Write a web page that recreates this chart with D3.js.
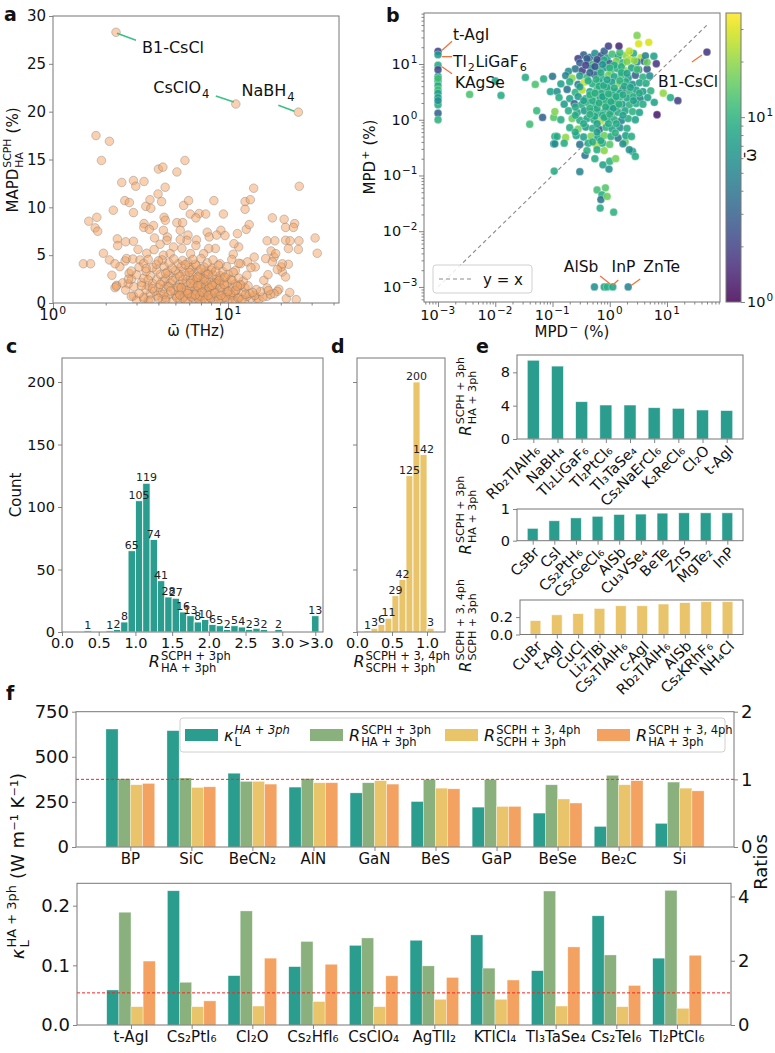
<!DOCTYPE html>
<html><head><meta charset="utf-8">
<script src="https://cdn.jsdelivr.net/npm/d3@7"></script>
<style>
body{margin:0;background:#fff}
svg{display:block}
text{font-family:"DejaVu Sans",sans-serif;fill:#111;white-space:pre}
</style>
</head><body>
<svg id="fig" width="775" height="1053"></svg>
<script>
// ================= DATA =================
// panel a: [omega_bar (THz), MAPD (%)]
const aPoints = [
[2.29,28.3],[11.07,20.8],[25.2,19.95],
[1.76,17.5],[2.1,16.9],[1.89,14.9],[4.0,14.0],[4.24,14.2],[5.1,13.7],[5.67,14.9],
[2.47,12.6],[2.88,12.8],[2.97,12.2],[3.31,12.7],[4.37,12.1],[14.0,12.0],[25.5,12.2],
[2.57,10.7],[2.73,10.5],[2.21,9.7],[2.88,9.45],[3.39,10.1],[3.58,10.8],[3.62,9.9],[3.98,11.4],[4.17,10.6],[5.57,10.2],[5.95,10.7],[8.3,10.7],[9.4,9.3],[12.5,10.6],[13.4,10.8],[12.5,9.8],[17.9,8.9],[20.9,8.75],[24.0,8.3],
[1.6,8.55],[1.78,8.96],[1.74,7.85],[1.8,7.5],[3.31,8.3],[3.75,8.1],[4.31,8.96],[4.38,8.65],[4.27,7.6],[5.1,8.4],[5.5,8.4],[6.08,9.3],[6.84,9.35],[7.45,9.3],[6.55,8.9],[9.1,7.6],[9.6,7.05],[11.3,7.25],[12.7,7.7],[13.2,8.2],[21.3,7.9],[5.33,7.6],[7.6,7.4],
[1.94,5.2],[1.49,4.1],[1.64,4.1],[2.1,4.5],[2.33,6.7],[2.34,6.0],[2.6,6.4],[2.88,6.45],[3.06,5.6],[3.43,5.2],[3.3,7.9],[3.55,7.7],[3.8,6.8],[4.5,6.9],[5.9,7.1],[6.6,6.6],[7.8,6.9],
[16.7,6.5],[18.5,6.5],[17.6,5.44],[16.4,4.64],[18.3,4.8],[18.7,5.16],[21.3,6.56],[22.1,5.69],[22.6,6.5],[23.6,7.9],[25.4,6.5],[25.2,5.6],[31.4,6.8],[32.3,5.2],[22.1,4.05],[20.4,3.24],[21.3,2.72],[20.1,3.77],[20.4,4.1],[19.1,3.5],[17.9,4.3],
[14.1,4.8],[14.3,3.77],[12.9,4.3],[11.8,4.1],[11.5,5.86],[10.7,5.1],[10.8,6.2],[8.6,7.1],[8.46,5.7],[7.75,5.7],[7.25,5.16],[6.55,6.0],[6.1,5.16],[5.45,5.7],[5.82,6.55],[5.33,6.63],[4.88,5.86],[4.47,6.55],[4.09,6.14],[3.78,5.58],[4.27,5.0],[4.67,5.16],
[2.17,2.9],[2.31,1.85],[2.26,1.6],[2.72,3.1],[2.69,2.0],[2.81,2.5],[2.88,0.73],[16.0,2.37],[16.9,2.96],[16.7,1.57],[19.5,1.43],[19.1,1.22],[18.3,0.98],[21.5,0.45],[16.7,0.7],[14.6,0.45],[24.5,0.35],[22.5,1.1],[2.41,3.8],[2.58,4.4],[2.63,4.65],[2.86,4.6],[3.14,4.5],[2.26,4.1],
[3.0,0.3],[3.5,0.25],[4.2,0.4],[4.8,0.2],[5.3,0.35],[5.9,0.28],[6.4,0.45],[7.0,0.22],[7.7,0.38],[8.3,0.3],[9.1,0.26],[10.2,0.42],[11.0,0.3],[12.4,0.24],[13.5,0.5],[15.0,0.36],[3.3,0.45],
[2.8,0.7],[3.3,0.62],[3.9,0.75],[4.4,0.58],[5.0,0.8],[5.6,0.65],[6.1,0.72],[6.7,0.55],[7.3,0.82],[7.9,0.6],[8.6,0.7],[9.5,0.62],[10.5,0.75],[11.6,0.58],[12.8,0.68],[14.2,0.8],[15.8,0.62],[17.5,0.9],
[3.1,1.0],[3.6,0.95],[4.1,1.1],[4.6,0.9],[5.2,1.05],[5.7,1.15],[6.3,0.92],[6.9,1.1],[7.5,1.0],[8.1,1.2],[8.9,0.95],[9.8,1.1],[10.8,1.0],[12.0,1.15],[13.3,0.98],[15.3,1.2],
[2.6,1.35],[3.4,1.4],[3.8,1.25],[4.3,1.5],[4.9,1.3],[5.4,1.45],[6.0,1.35],[6.5,1.55],[7.1,1.3],[7.7,1.45],[8.4,1.35],[9.2,1.5],[10.1,1.3],[11.2,1.45],[12.5,1.6],[14.5,1.4],[17.0,1.3],
[2.3,1.75],[2.9,1.7],[3.5,1.8],[4.0,1.65],[4.5,1.85],[5.1,1.7],[5.6,1.9],[6.2,1.75],[6.8,1.65],[7.4,1.85],[8.0,1.7],[8.8,1.9],[9.6,1.75],[10.6,1.65],[11.7,1.85],[13.0,1.8],
[2.5,2.1],[3.2,2.15],[3.7,2.05],[4.2,2.25],[4.7,2.1],[5.3,2.0],[5.8,2.2],[6.4,2.1],[7.0,2.3],[7.6,2.05],[8.3,2.15],[9.0,2.25],[9.9,2.1],[11.0,2.0],[12.2,2.3],
[2.7,2.5],[3.3,2.6],[3.9,2.45],[4.4,2.55],[5.0,2.65],[5.5,2.4],[6.1,2.6],[6.6,2.5],[7.2,2.7],[7.9,2.45],[8.6,2.55],[9.4,2.65],[10.4,2.5],[11.5,2.6],
[3.0,2.95],[3.6,2.85],[4.1,3.0],[4.6,2.9],[5.2,3.05],[5.7,2.85],[6.3,3.0],[6.9,2.9],[7.5,3.1],[8.2,2.95],[9.0,2.85],[10.0,3.0],[12.8,2.9],
[2.8,3.35],[3.4,3.3],[3.9,3.45],[4.5,3.25],[5.0,3.4],[5.6,3.3],[6.2,3.5],[6.8,3.35],[7.4,3.25],[8.0,3.45],[9.3,3.3],[11.0,3.4],
[3.1,3.75],[3.7,3.7],[4.3,3.85],[4.8,3.65],[5.4,3.8],[6.0,3.7],[6.6,3.9],[7.3,3.75],[8.1,3.65],[9.8,3.8],[13.5,3.7],
[3.3,4.15],[3.9,4.05],[4.6,4.2],[5.2,4.1],[5.9,4.25],[6.5,4.05],[7.6,4.2],[9.0,4.1],[11.5,4.15],
[3.5,4.55],[4.2,4.5],[4.9,4.6],[5.5,4.45],[6.3,4.55],[7.0,4.65],[8.2,4.5],[10.5,4.55],
[5.5,0.5],[6.0,0.9],[6.6,1.2],[7.2,0.5],[7.8,1.6],[8.5,2.0],[5.2,1.6],[6.3,2.4],[7.0,1.9],[8.0,0.9],[9.3,0.5],[6.8,0.35],[5.8,1.3],[7.5,2.3],[4.6,1.7],[9.0,1.6],[10.3,0.9],[11.8,1.9],[4.3,0.9],[3.7,1.5],
[4.4,0.3],[5.1,0.55],[5.7,0.3],[6.2,0.6],[6.9,0.75],[7.4,0.3],[8.0,0.5],[8.8,0.35],[9.7,0.55],[10.6,0.25],[11.4,0.5],[12.0,0.35],[4.0,0.5],[3.6,0.3],
[4.7,1.25],[5.3,0.85],[5.9,1.0],[6.5,0.85],[7.1,1.15],[7.7,0.8],[8.4,1.05],[9.1,0.8],[10.0,1.2],[11.0,1.3],[12.6,0.9],[13.8,1.1],
[4.1,1.95],[4.8,2.35],[5.4,1.6],[6.1,2.05],[6.7,1.8],[7.3,2.5],[8.1,1.85],[8.9,2.35],[9.5,1.95],[10.5,2.4],[11.3,1.75],
[4.4,3.1],[5.3,2.8],[6.0,3.2],[6.7,2.7],[7.7,3.0],[8.5,3.3],[9.6,2.7],[10.7,3.2],[3.5,2.4],[3.2,1.8],[3.4,3.6],[4.0,4.4],[5.7,4.0],[7.0,3.55],[8.8,3.95]
];
const aLabels = [{name:"B1-CsCl", at:[2.29,28.3]},{name:"CsClO", sub:"4", at:[11.07,20.8]},{name:"NaBH", sub:"4", at:[25.2,19.95]}];
const aXTicks = [1,10], aXMinor=[2,3,4,5,6,7,8,9,20,30,40], aYTicks=[0,5,10,15,20,25,30];

// panel b: [MPD- (%), MPD+ (%), omega_bar]
const bPoints = [
[0.001,9.5,9],[0.001,6.0,8],[0.001,4.9,10],[0.001,4.1,9],[0.001,3.45,12],[0.001,3.0,8],[0.001,2.5,7],[0.001,1.85,9],[0.001,1.31,3],[0.001,1.0,10],[0.001,5.5,12],[0.001,2.2,6],
[0.001,16.9,2.0],[0.001,14.7,7],[0.001,7.9,2.2],
[0.54,0.001,6],[0.8,0.001,8],[0.9,0.001,10],[1.13,0.001,8],[2.1,0.001,5],
[0.00357,2.84,13],[0.0126,2.73,9],[0.01,4.95,8],[0.0336,5.75,9],[0.05,4.3,13],[0.04,0.83,12],[0.053,1.45,11],[0.067,1.1,3],[0.07,5.4,9],[0.1,6.0,4],[0.092,3.2,8],[0.105,1.1,14],[0.11,0.5,9],[0.105,0.37,5],[0.107,0.12,9],[0.3,0.117,5],[0.37,0.23,4],[0.55,0.2,9],[0.76,0.155,8],[1.0,0.18,10],[0.97,0.13,6],[1.27,0.2,17],[1.86,0.4,16],[2.5,0.27,8],[2.8,0.22,9],[0.6,0.055,12],[0.84,0.06,14],[0.73,0.045,9],[0.7,0.037,4],[0.68,0.026,9],[1.17,0.022,10],[0.9,0.042,16],
[0.35,14.5,3],[0.45,13.2,4],[0.55,15.5,6],[0.7,14,2.5],[0.9,12.8,8],[1.1,15,12],[1.4,13.5,7],[1.9,14.2,20],[2.6,15.5,9],[3.5,13,25],[0.28,12.5,2],[0.8,17,3],
[0.3,10.5,3],[0.42,11.5,2.5],[0.6,10.8,7],[0.8,11.8,9],[1.0,10.2,3],[1.3,11.3,18],[1.7,10.6,10],[2.2,12,26],[3.0,10.9,5],[4.0,11.2,3],[0.5,9.8,12],
[0.25,8.2,4],[0.33,7.6,2],[0.48,8.5,8],[0.65,7.8,10],[0.85,8.6,6],[1.05,7.5,14],[1.35,8.3,9],[1.8,7.7,22],[2.4,8.5,8],[3.2,7.9,4],[4.5,8.1,2.5],[0.19,7.4,6],
[0.17,6.2,5],[0.22,5.6,20],[0.3,6.1,7],[0.4,5.8,11],[0.55,6.4,3],[0.72,5.7,9],[0.95,6.3,16],[1.2,5.9,8],[1.6,6.2,12],[2.1,5.6,7],[2.8,6.3,3],[3.8,5.8,10],[5.0,6.1,6],
[0.14,4.4,8],[0.2,4.8,9],[0.28,4.3,4],[0.36,4.7,28],[0.5,4.4,9],[0.65,4.9,8],[0.85,4.3,11],[1.1,4.7,7],[1.45,4.4,19],[1.9,4.8,9],[2.5,4.3,6],[3.3,4.6,8],[4.3,4.5,9],
[0.12,3.2,6],[0.18,3.5,4],[0.25,3.1,10],[0.33,3.4,25],[0.45,3.2,8],[0.6,3.5,12],[0.78,3.1,7],[1.0,3.4,10],[1.3,3.2,9],[1.7,3.5,3],[2.2,3.1,11],[2.9,3.4,8],[3.8,3.2,7],[5.2,3.3,10],
[0.13,2.5,9],[0.2,2.4,8],[0.28,2.6,7],[0.38,2.4,9],[0.52,2.6,15],[0.68,2.45,8],[0.9,2.6,9],[1.15,2.4,6],[1.5,2.55,10],[2.0,2.45,8],[2.6,2.6,9],[3.4,2.4,5],[4.6,2.5,8],
[0.16,1.9,7],[0.24,1.95,3],[0.32,1.85,9],[0.42,2.0,10],[0.56,1.85,8],[0.74,1.95,17],[0.98,1.85,9],[1.25,2.0,8],[1.65,1.9,7],[2.2,1.85,10],[2.9,1.95,9],[3.8,1.9,9],
[0.11,1.4,18],[0.19,1.45,9],[0.27,1.35,8],[0.36,1.45,7],[0.48,1.4,6],[0.62,1.35,9],[0.82,1.45,10],[1.05,1.4,4],[1.4,1.35,9],[1.85,1.45,8],[2.5,1.4,10],[3.3,1.35,8],
[0.14,1.0,9],[0.22,1.05,16],[0.3,0.98,9],[0.4,1.05,8],[0.53,1.0,9],[0.7,0.95,25],[0.92,1.05,8],[1.2,1.0,9],[1.6,0.97,5],[2.1,1.05,9],[2.8,1.0,8],
[0.2,0.72,9],[0.28,0.68,17],[0.38,0.74,7],[0.5,0.7,9],[0.66,0.67,3],[0.86,0.73,10],[1.1,0.69,8],[1.5,0.72,6],[2.0,0.7,9],
[0.12,0.5,9],[0.17,0.48,20],[0.26,0.52,8],[0.35,0.49,8],[0.47,0.51,18],[0.62,0.48,8],[0.8,0.52,16],[1.05,0.5,9],[1.4,0.47,4],[1.9,0.52,8],[2.4,0.5,9],
[0.11,0.37,6],[0.16,0.38,9],[0.3,0.36,4],[0.42,0.38,9],[0.58,0.35,26],[0.75,0.38,9],[1.0,0.36,14],[1.7,0.37,6],
[0.4,0.28,10],[0.6,0.29,9],[0.8,0.28,19],[2.2,0.29,6],
[0.5,2.2,9],[0.7,3.0,10],[0.9,3.8,9],[1.1,2.8,8],[0.6,1.6,9],[0.85,2.2,10],[1.3,1.7,9],[0.45,2.8,10],[0.75,1.2,9],[1.0,1.6,8],[1.2,2.2,10],[0.55,1.15,9],[0.95,0.85,9],[1.5,3.0,9],[0.65,4.0,9],[0.4,12.5,3],[0.6,12,2.2],[1.2,9.5,9],[1.6,9,10],[2.0,11,18],
[0.25,1.7,9],[0.35,2.2,8],[0.45,1.6,10],[0.55,3.0,9],[0.65,2.0,9],[0.75,2.6,8],[0.85,1.7,9],[0.95,2.9,10],[1.05,2.1,9],[1.15,1.6,8],[1.3,2.6,9],[1.45,1.9,10],[1.7,2.8,9],[0.3,3.9,8],[0.42,5.0,9],[0.58,5.3,10],[0.78,4.1,9],[0.9,5.2,8],[1.2,3.7,9],[1.5,5.0,10],[1.8,4.0,9],[2.3,3.8,8],[0.7,7.0,9],[1.0,8.5,10],[1.6,7.0,9],[2.0,6.8,8],[0.45,7.0,3],[0.55,9.0,2.5],[0.38,9.5,2],[0.75,9.8,6],[0.25,1.2,9],[0.35,0.85,9],[0.45,1.25,10],[0.6,0.85,8],[0.8,1.1,9],[1.0,1.25,10],[1.3,0.85,9],[1.7,1.2,8],[0.25,0.6,9],[0.6,0.6,8],[1.25,0.58,10],[0.7,0.42,9],[0.5,0.4,9],[3.0,8.0,12],[2.7,11.5,20],[1.5,16,12],[2.2,17,25],[4.2,14,5],[3.3,3.0,9],[2.6,2.2,8],
[4.8,24.5,30],[3.0,32.5,18],[0.95,21,2],[1.45,21,1.5],[5.9,13.8,8],[6.5,10.1,1.8],[8.6,3.0,20],[11.5,2.5,9],[15.5,2.2,2],[6.7,1.23,1.3],[49.9,16.4,1.8],[6.0,2.05,8],[4.5,10.7,16],[3.2,23,30]
];
const bMajor = [-3,-2,-1,0,1];
const cbTicks = [0,1];

// panel c histogram
const cBinStart = [0.3,0.6,0.7,0.8,0.9,1.0,1.1,1.2,1.3,1.4,1.5,1.6,1.7,1.8,1.9,2.0,2.1,2.2,2.3,2.4,2.5,2.6,2.7,2.9,3.4];
const cCounts   = [1,1,2,8,65,105,119,74,41,28,27,16,13,8,10,6,5,2,5,4,2,3,2,2,13];
const cXTicks = [0,0.5,1.0,1.5,2.0,2.5,3.0,3.45];
const cXTickLabels = ["0.0","0.5","1.0","1.5","2.0","2.5","3.0",">3.0"];
const cYTicks = [0,50,100,150,200];
// panel d histogram
const dBinStart = [0.1,0.2,0.3,0.4,0.5,0.6,0.7,0.8,0.9,1.0];
const dCounts   = [1,3,6,11,29,42,125,200,142,3];
const dXTicks = [0,0.5,1.0];

// panel e
const e1Names = ["Rb₂TlAlH₆","NaBH₄","Tl₂LiGaF₆","Tl₂PtCl₆","Tl₃TaSe₄","Cs₂NaErCl₆","K₂ReCl₆","Cl₂O","t-AgI"];
const e1Vals  = [9.45,8.75,4.48,4.08,4.08,3.76,3.68,3.48,3.42];
const e2Names = ["CsBr","CsI","Cs₂PtH₆","Cs₂GeCl₆","AlSb","Cu₃VSe₄","BeTe","ZnS","MgTe₂","InP"];
const e2Vals  = [0.39,0.63,0.72,0.77,0.83,0.84,0.87,0.88,0.88,0.88];
const e3Names = ["CuBr","t-AgI","CuCl","Li₂TlBi","Cs₂TlAlH₆","c-AgI","Rb₂TlAlH₆","AlSb","Cs₂KRhF₆","NH₄Cl"];
const e3Vals  = [0.16,0.226,0.24,0.30,0.33,0.33,0.35,0.366,0.377,0.377];

// panel f
const fTopNames = ["BP","SiC","BeCN₂","AlN","GaN","BeS","GaP","BeSe","Be₂C","Si"];
const fTopKappa = [654,645,409,332,300,252,221,188,114,131];
const fTopR1 = [1.01,1.02,0.97,1.01,0.95,1.0,1.0,0.92,1.06,0.96];
const fTopR2 = [0.92,0.88,0.97,0.95,0.98,0.87,0.60,0.71,0.92,0.87];
const fTopR3 = [0.94,0.89,0.93,0.95,0.93,0.86,0.60,0.65,0.98,0.83];
const fBotNames = ["t-AgI","Cs₂PtI₆","Cl₂O","Cs₂HfI₆","CsClO₄","AgTlI₂","KTlCl₄","Tl₃TaSe₄","Cs₂TeI₆","Tl₂PtCl₆"];
const fBotKappa = [0.0587,0.225,0.0827,0.0978,0.1335,0.142,0.151,0.091,0.183,0.112];
const fBotR1 = [3.51,1.33,3.55,2.60,2.71,1.84,1.77,4.17,2.18,4.19];
const fBotR2 = [0.57,0.57,0.59,0.73,0.57,0.80,0.80,0.59,0.57,0.52];
const fBotR3 = [1.99,0.75,2.08,1.89,1.53,1.48,1.40,2.43,1.23,2.17];
const fTopLeftTicks=[0,250,500,750], fTopRightTicks=[0,1,2];
const fBotLeftTicks=[0,0.1,0.2], fBotRightTicks=[0,2,4];

// ================= DRAW =================
const C_TEAL="#2a9d8f", C_GREEN="#8ab17d", C_YEL="#e9c46a", C_ORA="#f4a261";
const SPINE="#777";
const svg=d3.select("#fig");
const defs=svg.append("defs");
const RI={t:"R",italic:true};

function rich(parent, parts, fs, opts={}){
  const outer=parent.append("g").attr("transform",`translate(${opts.x||0},${opts.y||0}) rotate(${opts.rotate||0})`);
  const g=outer.append("g");
  let cx=0;
  parts.forEach(p=>{
    if(typeof p==="string"||p.t!==undefined){
      const s=typeof p==="string"?p:p.t;
      const t=g.append("text").attr("x",cx).attr("y",0).attr("font-size",fs).text(s);
      if(p.italic) t.attr("font-style","italic");
      if(opts.weight) t.attr("font-weight",opts.weight);
      cx+=t.node().getComputedTextLength();
    } else {
      const sf=fs*(p.scale||0.72); let w=0;
      if(p.sup!==undefined){const t=g.append("text").attr("x",cx+1).attr("y",-fs*(p.sub!==undefined?0.45:0.42)).attr("font-size",sf).text(p.sup); if(p.supItalic)t.attr("font-style","italic"); w=Math.max(w,t.node().getComputedTextLength());}
      if(p.sub!==undefined){const t=g.append("text").attr("x",cx+1).attr("y",fs*0.3).attr("font-size",sf).text(p.sub); w=Math.max(w,t.node().getComputedTextLength());}
      cx+=w+1.5;
    }
  });
  const a=opts.anchor||"middle";
  g.attr("transform",`translate(${a==="middle"?-cx/2:a==="end"?-cx:0},0)`);
  return outer;
}
function style(g,fs){
  g.select(".domain").remove();
  g.selectAll(".tick line").attr("stroke",SPINE).attr("stroke-width",0.9);
  g.selectAll(".tick text").attr("font-size",fs);
  return g;
}
function frame(x0,y0,x1,y1){
  svg.append("rect").attr("x",x0).attr("y",y0).attr("width",x1-x0).attr("height",y1-y0)
    .attr("fill","none").attr("stroke",SPINE).attr("stroke-width",1);
}
function clip(id,x0,y0,x1,y1){
  defs.append("clipPath").attr("id",id).append("rect").attr("x",x0).attr("y",y0).attr("width",x1-x0).attr("height",y1-y0);
  return `url(#${id})`;
}
function panelLabel(s,x,y){svg.append("text").attr("x",x).attr("y",y).attr("font-size",19).attr("font-weight","bold").text(s);}

// ---------- panel a ----------
{
  const X=d3.scaleLog().domain([1,43]).range([53,339]);
  const Y=d3.scaleLinear().domain([0,30]).range([303,16]);
  const g=svg.append("g").attr("clip-path",clip("ca",53,16,339,303));
  g.selectAll("circle").data(aPoints).join("circle")
    .attr("cx",d=>X(d[0])).attr("cy",d=>Y(d[1])).attr("r",4.3)
    .attr("fill",C_ORA).attr("fill-opacity",0.5)
    .attr("stroke","#6f6f6f").attr("stroke-opacity",0.45).attr("stroke-width",0.8);
  frame(53,16,339,303);
  style(svg.append("g").attr("transform","translate(53,0)").call(d3.axisLeft(Y).tickValues(aYTicks).tickSize(4).tickPadding(3)),15);
  style(svg.append("g").attr("transform","translate(0,303)").call(d3.axisBottom(X).tickValues(aXTicks).tickSize(5).tickFormat("")),15);
  style(svg.append("g").attr("transform","translate(0,303)").call(d3.axisBottom(X).tickValues(aXMinor).tickSize(2.5).tickFormat("")),15);
  aXTicks.forEach(v=>rich(svg,["10",{sup:String(Math.round(Math.log10(v)))}],15,{x:X(v),y:320}));
  rich(svg,["MAPD",{sup:"SCPH",sub:"HA"}," (%)"],15,{x:18,y:160,rotate:-90});
  rich(svg,["ω̄ (THz)"],15,{x:196,y:336});
  const GL="#3dbf86";
  const offs=[{l:[1,1,20,8],t:[26,21],anchor:"start"},{l:[-20,-8,-2,-2],t:[-26,-11],anchor:"end"},{l:[-20,-7,-4,-1],t:[-30,-16],anchor:"middle"}];
  aLabels.forEach((lb,i)=>{
    const px=X(lb.at[0]),py=Y(lb.at[1]),o=offs[i];
    svg.append("line").attr("x1",px+o.l[0]).attr("y1",py+o.l[1]).attr("x2",px+o.l[2]).attr("y2",py+o.l[3]).attr("stroke",GL).attr("stroke-width",1.6);
    const parts=[lb.name]; if(lb.sub) parts.push({sub:lb.sub,scale:0.72});
    rich(svg,parts,16,{x:px+o.t[0],y:py+o.t[1],anchor:o.anchor});
  });
  panelLabel("a",4,21);
}

// ---------- panel b ----------
{
  const X=d3.scaleLog().domain([Math.pow(10,-3.245),Math.pow(10,1.926)]).range([424,720]);
  const Y=d3.scaleLog().domain([Math.pow(10,-3.27),Math.pow(10,1.915)]).range([302,13]);
  const col=d3.scaleSequentialLog(d3.interpolateViridis).domain([1,36.6]);
  const g=svg.append("g").attr("clip-path",clip("cb",424,13,720,302));
  g.append("line").attr("x1",X(0.001)).attr("y1",Y(0.001)).attr("x2",X(50)).attr("y2",Y(50))
    .attr("stroke","#8a8a8a").attr("stroke-dasharray","4,3").attr("stroke-width",1.1);
  g.selectAll("circle").data(bPoints).join("circle")
    .attr("cx",d=>X(d[0])).attr("cy",d=>Y(d[1])).attr("r",3.9)
    .attr("fill",d=>col(d[2])).attr("fill-opacity",0.88)
    .attr("stroke","#fff").attr("stroke-opacity",0.6).attr("stroke-width",0.5);
  frame(424,13,720,302);
  const minor=[];
  for(let e=-4;e<=1;e++) for(let k=2;k<=9;k++) minor.push(k*Math.pow(10,e));
  const mx=minor.filter(v=>v>=X.domain()[0]&&v<=X.domain()[1]);
  const my=minor.filter(v=>v>=Y.domain()[0]&&v<=Y.domain()[1]);
  const maj=bMajor.map(e=>Math.pow(10,e));
  style(svg.append("g").attr("transform","translate(0,302)").call(d3.axisBottom(X).tickValues(maj).tickSize(5).tickFormat("")),14);
  style(svg.append("g").attr("transform","translate(0,302)").call(d3.axisBottom(X).tickValues(mx).tickSize(2.5).tickFormat("")),14);
  style(svg.append("g").attr("transform","translate(424,0)").call(d3.axisLeft(Y).tickValues(maj).tickSize(5).tickFormat("")),14);
  style(svg.append("g").attr("transform","translate(424,0)").call(d3.axisLeft(Y).tickValues(my).tickSize(2.5).tickFormat("")),14);
  bMajor.forEach(e=>{
    const s=e<0?"−"+(-e):String(e);
    rich(svg,["10",{sup:s}],14.5,{x:X(Math.pow(10,e)),y:320});
    rich(svg,["10",{sup:s}],14.5,{x:418,y:Y(Math.pow(10,e))+5,anchor:"end"});
  });
  rich(svg,["MPD",{sup:"+"}," (%)"],15,{x:375,y:157,rotate:-90});
  rich(svg,["MPD",{sup:"−"}," (%)"],15,{x:572,y:337});
  // legend
  svg.append("rect").attr("x",433).attr("y",265).attr("width",99).attr("height",28).attr("rx",3)
    .attr("fill","#fff").attr("fill-opacity",0.85).attr("stroke","#d0d0d0");
  svg.append("line").attr("x1",439).attr("x2",471).attr("y1",279).attr("y2",279).attr("stroke","#8a8a8a").attr("stroke-dasharray","4,3").attr("stroke-width",1.2);
  svg.append("text").attr("x",483).attr("y",284.5).attr("font-size",15).text("y = x");
  // colorbar
  const grad=defs.append("linearGradient").attr("id","vir").attr("x1",0).attr("y1",1).attr("x2",0).attr("y2",0);
  d3.range(0,1.0001,0.05).forEach(t=>grad.append("stop").attr("offset",t).attr("stop-color",d3.interpolateViridis(t)));
  svg.append("rect").attr("x",726).attr("y",13).attr("width",15).attr("height",289).attr("fill","url(#vir)").attr("opacity",0.85);
  svg.append("rect").attr("x",726).attr("y",13).attr("width",15).attr("height",289).attr("fill","none").attr("stroke",SPINE);
  const CB=d3.scaleLog().domain([1,36.6]).range([302,13]);
  style(svg.append("g").attr("transform","translate(741,0)").call(d3.axisRight(CB).tickValues(cbTicks.map(e=>Math.pow(10,e))).tickSize(4).tickFormat("")),14);
  style(svg.append("g").attr("transform","translate(741,0)").call(d3.axisRight(CB).tickValues([2,3,4,5,6,7,8,9,20,30]).tickSize(2.5).tickFormat("")),14);
  cbTicks.forEach(e=>rich(svg,["10",{sup:String(e)}],14.5,{x:747,y:CB(Math.pow(10,e))+5,anchor:"start"}));
  rich(svg,["ω̄"],16,{x:756,y:155,rotate:-90});
  // annotations
  const OR="#f0743c";
  const ann=[
    {p:[0.001,16.9],l:[4,-1,14,-10],t:[15,-11],a:"start",parts:["t-AgI"]},
    {p:[0.001,14.7],l:[4,2,14,2],t:[15,12],a:"start",parts:["Tl",{sub:"2"},"LiGaF",{sub:"6"}]},
    {p:[0.001,7.9],l:[4,-3,14,4],t:[17,18],a:"start",parts:["KAgSe"]},
    {p:[49.9,16.4],l:[-15,10,-5,3],t:[-19,35],a:"middle",parts:["B1-CsCl"]},
    {p:[0.9,0.001],l:[-7,-11,3,-3],t:[-26,-15],a:"middle",parts:["AlSb"]},
    {p:[1.13,0.001],l:[5.5,-7,-0.5,-1.5],t:[10.7,-15],a:"middle",parts:["InP"]},
    {p:[2.1,0.001],l:[12,-8,3,-1.5],t:[33.5,-15],a:"middle",parts:["ZnTe"]}
  ];
  ann.forEach(o=>{
    const px=X(o.p[0]),py=Y(o.p[1]);
    svg.append("line").attr("x1",px+o.l[0]).attr("y1",py+o.l[1]).attr("x2",px+o.l[2]).attr("y2",py+o.l[3]).attr("stroke",OR).attr("stroke-width",1.3);
    rich(svg,o.parts,15.5,{x:px+o.t[0],y:py+o.t[1],anchor:o.a});
  });
  panelLabel("b",386,22);
}

// ---------- panel c & d ----------
{
  const Y=d3.scaleLinear().domain([0,219.2]).range([632,358]);
  const X=d3.scaleLinear().domain([0,3.555]).range([62,323]);
  const g=svg.append("g");
  g.selectAll("rect").data(cCounts).join("rect")
    .attr("x",(d,i)=>X(cBinStart[i])).attr("width",(d,i)=>X(cBinStart[i]+0.1)-X(cBinStart[i]))
    .attr("y",d=>Y(d)).attr("height",d=>Y(0)-Y(d)).attr("fill",C_TEAL).attr("stroke","#fff").attr("stroke-width",0.8);
  g.selectAll("text").data(cCounts).join("text")
    .attr("x",(d,i)=>X(cBinStart[i]+0.05)).attr("y",d=>Y(d)-2).attr("text-anchor","middle").attr("font-size",11).style("fill","#222").text(d=>d);
  frame(62,358,323,632);
  style(svg.append("g").attr("transform","translate(62,0)").call(d3.axisLeft(Y).tickValues(cYTicks).tickSize(4).tickPadding(3)),14.5);
  style(svg.append("g").attr("transform","translate(0,632)").call(d3.axisBottom(X).tickValues(cXTicks).tickSize(4).tickPadding(2).tickFormat((d,i)=>cXTickLabels[i])),14.5);
  rich(svg,["Count"],15,{x:21,y:495,rotate:-90});
  rich(svg,[RI,{sup:"SCPH + 3ph",sub:"HA + 3ph"}],16,{x:190,y:667});
  panelLabel("c",6,353);

  const DX=d3.scaleLinear().domain([0,1.257]).range([357,445]);
  const h=svg.append("g");
  h.selectAll("rect").data(dCounts).join("rect")
    .attr("x",(d,i)=>DX(dBinStart[i])).attr("width",(d,i)=>DX(dBinStart[i]+0.1)-DX(dBinStart[i]))
    .attr("y",d=>Y(d)).attr("height",d=>Y(0)-Y(d)).attr("fill",C_YEL).attr("stroke","#fff").attr("stroke-width",0.8);
  h.selectAll("text").data(dCounts).join("text")
    .attr("x",(d,i)=>DX(dBinStart[i]+0.05)).attr("y",d=>Y(d)-2).attr("text-anchor","middle").attr("font-size",11).style("fill","#222").text(d=>d);
  frame(357,358,445,632);
  style(svg.append("g").attr("transform","translate(357,0)").call(d3.axisLeft(Y).tickValues(cYTicks).tickSize(4).tickFormat("")),14.5);
  style(svg.append("g").attr("transform","translate(0,632)").call(d3.axisBottom(DX).tickValues(dXTicks).tickSize(4).tickPadding(2).tickFormat(d3.format(".1f"))),14.5);
  rich(svg,[RI,{sup:"SCPH + 3, 4ph",sub:"SCPH + 3ph"}],16,{x:402,y:667});
  panelLabel("d",331,353);
}

// ---------- panel e ----------
function ePanel(names,vals,x0,x1,y0,y1,ymax,ticks,fmt,color,ylab){
  const n=names.length, m=(n-0.5)*0.05+0.25;
  const X=d3.scaleLinear().domain([-m,n-1+m]).range([x0,x1]);
  const Y=d3.scaleLinear().domain([0,ymax]).range([y1,y0]);
  const bw=X(0.5)-X(0);
  svg.append("g").selectAll("rect").data(vals).join("rect")
    .attr("x",(d,i)=>X(i)-bw/2).attr("width",bw).attr("y",d=>Y(d)).attr("height",d=>Y(0)-Y(d))
    .attr("fill",color).attr("stroke","#fff").attr("stroke-opacity",0.7).attr("stroke-width",0.8);
  frame(x0,y0,x1,y1);
  style(svg.append("g").attr("transform",`translate(${x0},0)`).call(d3.axisLeft(Y).tickValues(ticks).tickSize(4).tickPadding(3).tickFormat(fmt)),14.5);
  style(svg.append("g").attr("transform",`translate(0,${y1})`).call(d3.axisBottom(X).tickValues(d3.range(n)).tickSize(4).tickFormat("")),14);
  names.forEach((nm,i)=>{
    svg.append("text").attr("transform",`translate(${X(i)+4},${y1+9}) rotate(-45)`)
      .attr("text-anchor","end").attr("dy","0.35em").attr("font-size",14.5).text(nm);
  });
  rich(svg,[RI,{sup:ylab[0],sub:ylab[1],scale:0.74}],15,{x:471,y:(y0+y1)/2+ylab[2],rotate:-90});
}
ePanel(e1Names,e1Vals,517,743,355,439,10.08,[0,4,8],d3.format("d"),C_TEAL,["SCPH + 3ph","HA + 3ph",-1]);
ePanel(e2Names,e2Vals,517,743,509,540.7,1.0,[0,1],d3.format("d"),C_TEAL,["SCPH + 3ph","HA + 3ph",-10]);
ePanel(e3Names,e3Vals,520,743,600,634.5,0.396,[0,0.2],d3.format(".1f"),C_YEL,["SCPH + 3, 4ph","SCPH + 3ph",8]);
panelLabel("e",476,353);

// ---------- panel f ----------
function fPanel(names,kappa,r1,r2,r3,x0,x1,y0,y1,kmax,rmax,lt,rt,lfmt,labY){
  const X=d3.scaleLinear().domain([-0.89,9.89]).range([x0,x1]);
  const YL=d3.scaleLinear().domain([0,kmax]).range([y1,y0]);
  const YR=d3.scaleLinear().domain([0,rmax]).range([y1,y0]);
  const bw=X(0.2)-X(0);
  const series=[[kappa,YL,C_TEAL,-0.3],[r1,YR,C_GREEN,-0.1],[r2,YR,C_YEL,0.1],[r3,YR,C_ORA,0.3]];
  series.forEach(([vals,S,c,off])=>{
    svg.append("g").selectAll("rect").data(vals).join("rect")
      .attr("x",(d,i)=>X(i+off)-bw/2).attr("width",bw).attr("y",d=>S(d)).attr("height",d=>S(0)-S(d))
      .attr("fill",c).attr("stroke","#fff").attr("stroke-opacity",0.6).attr("stroke-width",0.6);
  });
  svg.append("line").attr("x1",x0).attr("x2",x1).attr("y1",YR(1)).attr("y2",YR(1))
    .attr("stroke","#ff2020").attr("stroke-dasharray","3,2").attr("stroke-width",1);
  frame(x0,y0,x1,y1);
  style(svg.append("g").attr("transform",`translate(${x0},0)`).call(d3.axisLeft(YL).tickValues(lt).tickSize(4).tickPadding(3).tickFormat(lfmt)),18);
  style(svg.append("g").attr("transform",`translate(${x1},0)`).call(d3.axisRight(YR).tickValues(rt).tickSize(4).tickPadding(3).tickFormat(d3.format("d"))),18);
  style(svg.append("g").attr("transform",`translate(0,${y1})`).call(d3.axisBottom(X).tickValues(d3.range(10)).tickSize(4).tickFormat("")),14);
  names.forEach((nm,i)=>svg.append("text").attr("x",X(i)).attr("y",labY).attr("text-anchor","middle").attr("font-size",15).text(nm));
}
fPanel(fTopNames,fTopKappa,fTopR1,fTopR2,fTopR3,76,734,711.7,847,750,2,fTopLeftTicks,fTopRightTicks,d3.format("d"),864);
fPanel(fBotNames,fBotKappa,fBotR1,fBotR2,fBotR3,77,731,883.3,1025,0.2375,4.41,fBotLeftTicks,fBotRightTicks,d3.format(".1f"),1042);
rich(svg,[{t:"κ",italic:true},{sup:"HA + 3ph",sub:"L"}," (W m⁻¹ K⁻¹)"],18,{x:24,y:866,rotate:-90});
rich(svg,["Ratios"],18,{x:767,y:862,rotate:-90});
// legend f
{
  svg.append("rect").attr("x",180).attr("y",718).attr("width",545).attr("height",34).attr("rx",3)
    .attr("fill","#fff").attr("fill-opacity",0.85).attr("stroke","#d0d0d0");
  const items=[
    {c:C_TEAL,x:185,parts:[{t:"κ",italic:true},{sup:"HA + 3ph",sub:"L",supItalic:true}]},
    {c:C_GREEN,x:310,parts:[RI,{sup:"SCPH + 3ph",sub:"HA + 3ph"}]},
    {c:C_YEL,x:445,parts:[RI,{sup:"SCPH + 3, 4ph",sub:"SCPH + 3ph"}]},
    {c:C_ORA,x:597,parts:[RI,{sup:"SCPH + 3, 4ph",sub:"HA + 3ph"}]}
  ];
  items.forEach(it=>{
    svg.append("rect").attr("x",it.x).attr("y",729).attr("width",33).attr("height",12).attr("fill",it.c);
    rich(svg,it.parts,16,{x:it.x+39,y:741,anchor:"start"});
  });
}
panelLabel("f",6,700);
</script>
</body></html>
